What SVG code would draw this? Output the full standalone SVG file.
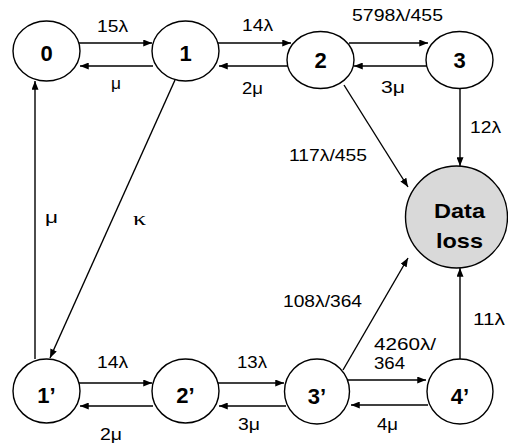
<svg xmlns="http://www.w3.org/2000/svg" width="508" height="444" viewBox="0 0 508 444">
  <defs>
    <marker id="arrow" viewBox="0 0 10 8" refX="10" refY="4" markerWidth="9" markerHeight="7" markerUnits="userSpaceOnUse" orient="auto">
      <path d="M0,0 L10,4 L0,8 Z" fill="#000"/>
    </marker>
  </defs>
  <style>
    .state { fill: #fff; stroke: #000; stroke-width: 1.4; }
    .loss { fill: #d9d9d9; stroke: #000; stroke-width: 1.4; }
    .name { font-family: "Liberation Sans", Arial, sans-serif; font-weight: bold; font-size: 22px; text-anchor: middle; fill: #000; }
    .lossname { font-family: "Liberation Sans", Arial, sans-serif; font-weight: bold; font-size: 21px; fill: #000; }
    .rate { font-family: "Liberation Sans", Arial, sans-serif; font-size: 17px; fill: #000; }
    .greek { font-family: "Liberation Serif", "Times New Roman", serif; }
    .edge { fill: none; stroke: #000; stroke-width: 1.4; marker-end: url(#arrow); }
  </style>
  <rect width="508" height="444" fill="#fff"/>

  <!-- transitions -->
  <g id="connectors">
    <path class="edge" d="M79,43 H152"/>
    <path class="edge" d="M153,66 H80"/>
    <path class="edge" d="M218,43 H291"/>
    <path class="edge" d="M288,66 H219"/>
    <path class="edge" d="M349,43 H428"/>
    <path class="edge" d="M428,66 H354"/>
    <path class="edge" d="M460,89 V166"/>
    <path class="edge" d="M344,85 L408,187"/>
    <path class="edge" d="M343,370 L408,258"/>
    <path class="edge" d="M460,359 V268"/>
    <path class="edge" d="M175,80 L50,358"/>
    <path class="edge" d="M35,359 V81"/>
    <path class="edge" d="M79,383 H152"/>
    <path class="edge" d="M153,406 H80"/>
    <path class="edge" d="M218,383 H284"/>
    <path class="edge" d="M286,406 H219"/>
    <path class="edge" d="M348,380 H426"/>
    <path class="edge" d="M428,405 H351"/>
  </g>

  <!-- transition rates -->
  <g id="rates" class="rate">
    <text x="97" y="32" textLength="31" lengthAdjust="spacingAndGlyphs">15λ</text>
    <text x="242" y="31" textLength="31" lengthAdjust="spacingAndGlyphs">14λ</text>
    <text x="352" y="21" textLength="91" lengthAdjust="spacingAndGlyphs">5798λ/455</text>
    <text x="111" y="89" textLength="10" lengthAdjust="spacingAndGlyphs">μ</text>
    <text x="242" y="94" textLength="21" lengthAdjust="spacingAndGlyphs">2μ</text>
    <text x="381" y="93" textLength="24" lengthAdjust="spacingAndGlyphs">3μ</text>
    <text x="470" y="133" textLength="31" lengthAdjust="spacingAndGlyphs">12λ</text>
    <text x="289" y="161" textLength="78" lengthAdjust="spacingAndGlyphs">117λ/455</text>
    <text x="45" y="223" textLength="13" lengthAdjust="spacingAndGlyphs">μ</text>
    <text class="greek" x="133" y="225" font-size="19" textLength="13" lengthAdjust="spacingAndGlyphs">κ</text>
    <text x="283" y="307" textLength="79" lengthAdjust="spacingAndGlyphs">108λ/364</text>
    <text x="473" y="325" textLength="32" lengthAdjust="spacingAndGlyphs">11λ</text>
    <text x="374" y="350" font-size="16" textLength="62" lengthAdjust="spacingAndGlyphs">4260λ/</text>
    <text x="374" y="369" font-size="16" textLength="31" lengthAdjust="spacingAndGlyphs">364</text>
    <text x="97" y="368" textLength="31" lengthAdjust="spacingAndGlyphs">14λ</text>
    <text x="237" y="368" textLength="30" lengthAdjust="spacingAndGlyphs">13λ</text>
    <text x="100" y="440" textLength="22" lengthAdjust="spacingAndGlyphs">2μ</text>
    <text x="238" y="430" textLength="22" lengthAdjust="spacingAndGlyphs">3μ</text>
    <text x="377" y="430" textLength="21" lengthAdjust="spacingAndGlyphs">4μ</text>
  </g>

  <!-- states -->
  <g id="s0"><ellipse class="state" cx="46.5" cy="51" rx="33.5" ry="30"/><text class="name" x="46.5" y="60.5">0</text></g>
  <g id="s1"><ellipse class="state" cx="185.5" cy="51" rx="33.5" ry="30"/><text class="name" x="185.5" y="60.5">1</text></g>
  <g id="s2"><ellipse class="state" cx="320.5" cy="60" rx="33.5" ry="28.5"/><text class="name" x="320.5" y="68">2</text></g>
  <g id="s3"><ellipse class="state" cx="459.5" cy="60" rx="33.5" ry="28.5"/><text class="name" x="459.5" y="68">3</text></g>
  <g id="s1p"><ellipse class="state" cx="46.5" cy="391" rx="33.5" ry="32"/><text class="name" x="46.5" y="403">1’</text></g>
  <g id="s2p"><ellipse class="state" cx="185.5" cy="391" rx="33.5" ry="32"/><text class="name" x="185.5" y="403">2’</text></g>
  <g id="s3p"><ellipse class="state" cx="317" cy="391.5" rx="32.5" ry="32.5"/><text class="name" x="317" y="404">3’</text></g>
  <g id="s4p"><ellipse class="state" cx="460" cy="391.5" rx="33" ry="32.5"/><text class="name" x="460" y="404">4’</text></g>
  <g id="dataloss">
    <circle class="loss" cx="456.5" cy="217" r="51"/>
    <text class="lossname" x="434" y="218" textLength="51" lengthAdjust="spacingAndGlyphs">Data</text>
    <text class="lossname" x="436" y="248" textLength="47" lengthAdjust="spacingAndGlyphs">loss</text>
  </g>
</svg>
